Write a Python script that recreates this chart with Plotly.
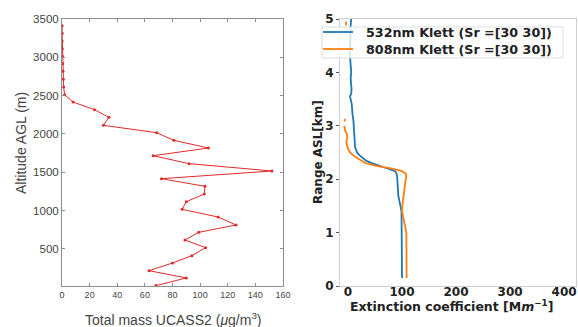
import plotly.graph_objects as go

W, H = 578, 327

# ---- Left panel data: UCASS2 total mass profile ----
ucass_alt_m = [22, 122, 217, 317, 413, 517, 617, 717, 813, 917, 1017, 1117, 1217, 1317,
               1417, 1517, 1613, 1717, 1817, 1917, 2017, 2113, 2217, 2317, 2417, 2513,
               2613, 2713, 2817, 2917, 3013, 3113, 3213, 3313, 3413]
ucass_mass = [68, 90, 63, 80, 94, 104, 89, 99, 126, 113, 87, 90, 103, 103.5,
              72, 152, 92, 66, 106, 81, 68.5, 30, 34, 23.5, 8, 1.9,
              1.2, 1.0, 0.7, 0.5, 0.3, 0.2, 0.1, 0.1, 0.1]

# ---- Right panel data: Klett extinction profiles ----
alt_532 = [0.15, 0.3, 0.5, 0.7, 0.9, 1.1, 1.3, 1.4, 1.5, 1.6, 1.7, 1.8, 1.9, 2.0, 2.05, 2.1,
           2.15, 2.2, 2.25, 2.3, 2.35, 2.4, 2.45, 2.5, 2.55, 2.6, 2.7, 2.8, 2.9, 3.0, 3.1,
           3.2, 3.3, 3.4, 3.5, 3.55, 3.6, 3.7, 3.8, 3.9, 4.0, 4.1, 4.2, 4.3, 4.4, 4.5, 4.6,
           4.7, 4.8, 4.9, 5.0]
ext_532 = [100, 100, 100, 100, 100, 100, 100, 99, 97, 95, 93, 92.5, 92, 92, 91, 90,
           87, 73, 57, 44, 33, 26, 21, 17, 15, 13, 12.5, 12, 11.5, 11.5, 10,
           8.5, 8, 7, 5, 3.5, 6, 6.5, 5.5, 5, 6, 5, 4.5, 3.5, 3, 4, 4,
           5, 4.5, 5, 6]

alt_808 = [0.15, 0.3, 0.5, 0.7, 0.9, 1.0, 1.1, 1.2, 1.3, 1.4, 1.5, 1.6, 1.7, 1.8, 1.9, 2.0,
           2.05, 2.1, 2.15, 2.2, 2.25, 2.3, 2.35, 2.4, 2.45, 2.5, 2.55, 2.6, 2.7, 2.8, 2.85,
           2.9, 3.0, None, 3.08, 3.13, None, 4.88, 4.95]
ext_808 = [108.5, 108.5, 108.5, 108.5, 108.5, 108, 106, 104, 101, 100, 100.5, 101.5, 103, 104.5, 105.5, 107,
           108, 107, 100, 82, 52, 33, 24, 16, 9, 4, 1, -1, -3, -1, -2,
           -5, -7, None, -6, -6, None, -4, -3]

series_names = ["532nm Klett (Sr =[30 30])", "808nm Klett (Sr =[30 30])"]
series_colors = ["#1f77b4", "#ff7f0e"]

x_ticks_left = [0, 20, 40, 60, 80, 100, 120, 140, 160]
y_ticks_left = [500, 1000, 1500, 2000, 2500, 3000, 3500]
x_ticks_right = [0, 100, 200, 300, 400]
y_ticks_right = [0, 1, 2, 3, 4, 5]

def px(x):
    return x / W

def py(y):
    return 1 - y / H

fig = go.Figure()

fig.add_trace(go.Scatter(
    x=ucass_mass, y=ucass_alt_m, mode="lines+markers",
    line=dict(color="#e02a2a", width=1), marker=dict(size=3, color="#e02a2a"),
    xaxis="x", yaxis="y", showlegend=False))

fig.add_trace(go.Scatter(
    x=ext_532, y=alt_532, mode="lines", name=series_names[0], showlegend=False,
    line=dict(color=series_colors[0], width=1.8), xaxis="x2", yaxis="y2", connectgaps=False))
fig.add_trace(go.Scatter(
    x=ext_808, y=alt_808, mode="lines", name=series_names[1], showlegend=False,
    line=dict(color=series_colors[1], width=1.8), xaxis="x2", yaxis="y2", connectgaps=False))

ydom = [py(286), py(19)]
left_axis_color = "#8c8c8c"
fig.update_layout(
    width=W, height=H, margin=dict(l=0, r=0, t=0, b=0, autoexpand=False),
    paper_bgcolor="white", plot_bgcolor="white", showlegend=False,
    xaxis=dict(domain=[px(62), px(283)], range=[0, 160], tickvals=x_ticks_left, automargin=False,
               showgrid=False, zeroline=False, showline=True, linecolor=left_axis_color,
               linewidth=1, mirror="ticks", ticks="inside", ticklen=3, tickcolor=left_axis_color,
               tickfont=dict(family="Liberation Sans, Arial", size=9, color="#444"), anchor="y"),
    yaxis=dict(domain=ydom, range=[17, 3500], tickvals=y_ticks_left, automargin=False,
               showgrid=False, zeroline=False, showline=True, linecolor=left_axis_color,
               linewidth=1, mirror="ticks", ticks="inside", ticklen=3, tickcolor=left_axis_color,
               tickfont=dict(family="Liberation Sans, Arial", size=11.5, color="#444"), anchor="x"),
    xaxis2=dict(domain=[px(340), px(576)], range=[-14.8, 422], tickvals=x_ticks_right, automargin=False,
                showgrid=False, zeroline=False, showline=True, linecolor="#cfcfcf",
                linewidth=1, mirror=True, ticks="", ticklen=0, ticklabelstandoff=-5,
                ticklabeloverflow="allow",
                tickfont=dict(family="DejaVu Sans", size=12, color="#222", weight="bold"), anchor="y2"),
    yaxis2=dict(domain=ydom, range=[0, 5], tickvals=y_ticks_right, automargin=False,
                showgrid=False, zeroline=False, showline=True, linecolor="#cfcfcf",
                linewidth=1, mirror=True, ticks="outside", ticklen=3, tickcolor="#555",
                tickfont=dict(family="DejaVu Sans", size=12, color="#222", weight="bold"), anchor="x2"),
)

annotations = [
    dict(text="Altitude AGL (m)", x=px(21), y=py(143), textangle=-90,
         font=dict(family="Liberation Sans, Arial", size=14, color="#444")),
    dict(text="Total mass UCASS2 (<i>μ</i>g/m<sup>3</sup>)", x=px(173), y=py(319),
         font=dict(family="Liberation Sans, Arial", size=14, color="#444")),
    dict(text="<b>Range ASL[km]</b>", x=px(318), y=py(152), textangle=-90,
         font=dict(family="DejaVu Sans", size=12, color="#222")),
    dict(text="<b>Extinction coefficient [M<i>m</i><sup>−1</sup>]</b>", x=px(451), y=py(306),
         font=dict(family="DejaVu Sans", size=12.5, color="#222")),
]
for a in annotations:
    a.update(xanchor="center", yanchor="middle")

# manual legend (matplotlib style) for the right panel
shapes = [dict(type="rect", xref="paper", yref="paper", x0=px(322), x1=px(563), y0=py(58), y1=py(27),
               fillcolor="rgba(255,255,255,0.8)", line=dict(color="#dddddd", width=1), layer="above")]
legend_rows = [32, 49]
for name, color, yr in zip(series_names, series_colors, legend_rows):
    shapes.append(dict(type="line", xref="paper", yref="paper", x0=px(323), x1=px(353),
                       y0=py(yr), y1=py(yr), line=dict(color=color, width=1.8), layer="above"))
    annotations.append(dict(text=f"<b>{name}</b>", x=px(364), y=py(yr), xanchor="left", yanchor="middle",
                            font=dict(family="DejaVu Sans", size=12.7, color="#222")))
for a in annotations:
    a.update(xref="paper", yref="paper", showarrow=False)
fig.update_layout(annotations=annotations, shapes=shapes)

fig.write_html("out.html", config={"displayModeBar": False},
               post_script="document.body.style.margin='0';document.body.style.overflow='hidden';")
